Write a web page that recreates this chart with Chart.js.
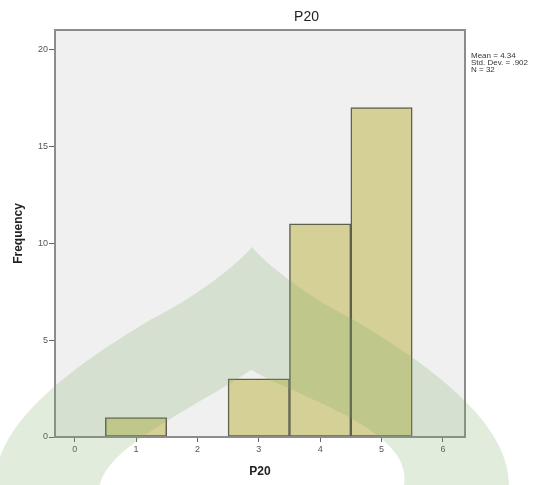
<!DOCTYPE html>
<html>
<head>
<meta charset="utf-8">
<script src="https://cdn.jsdelivr.net/npm/chart.js@4/dist/chart.umd.min.js"></script>
<style>
  html, body { margin: 0; padding: 0; background: #ffffff; }
  #wrap { width: 548px; height: 485px; }
</style>
</head>
<body>
<div id="wrap"><canvas id="c" width="548" height="485"></canvas></div>
<script>
// ---- data ----
const chartTitle = 'P20';
const xAxisTitle = 'P20';
const yAxisTitle = 'Frequency';
const binCenters = [1, 3, 4, 5];
const frequencies = [1, 3, 11, 17];
const statLines = ['Mean = 4.34', 'Std. Dev. = .902', 'N = 32'];
const xTickValues = [0, 1, 2, 3, 4, 5, 6];
const yTickValues = [0, 5, 10, 15, 20];

const FONT = '"Liberation Sans", Arial, sans-serif';

const plotFramePlugin = {
  id: 'plotFrame',
  beforeDatasetsDraw(chart) {
    const {ctx, chartArea: a} = chart;
    ctx.save();
    ctx.fillStyle = '#f0f0f0';
    ctx.fillRect(a.left, a.top, a.right - a.left, a.bottom - a.top);
    ctx.restore();
  },
  afterDatasetsDraw(chart) {
    const {ctx, chartArea: a} = chart;
    ctx.save();
    ctx.strokeStyle = '#8c8c8c';
    ctx.lineWidth = 2;
    ctx.strokeRect(a.left, a.top, a.right - a.left, a.bottom - a.top);
    ctx.restore();
  }
};

const textPlugin = {
  id: 'extraText',
  afterDraw(chart) {
    const {ctx, chartArea: a} = chart;
    ctx.save();
    ctx.fillStyle = '#222';
    ctx.font = '14px ' + FONT;
    ctx.textAlign = 'center';
    ctx.textBaseline = 'middle';
    ctx.fillText(chartTitle, (a.left + chart.width) / 2 + 5, 17);
    ctx.fillStyle = '#333';
    ctx.font = '8px ' + FONT;
    ctx.textAlign = 'left';
    statLines.forEach((s, i) => ctx.fillText(s, a.right + 6, 56 + i * 6.8));
    ctx.restore();
  }
};

const watermarkPlugin = {
  id: 'watermark',
  afterDraw(chart) {
    const ctx = chart.ctx;
    ctx.save();
    ctx.beginPath();
    ctx.moveTo(-5, 485);
    ctx.bezierCurveTo(-5, 420, 80, 362, 150, 320);
    ctx.bezierCurveTo(200, 295, 240, 262, 252, 247);
    ctx.bezierCurveTo(264, 262, 304, 295, 354, 320);
    ctx.bezierCurveTo(424, 362, 509, 420, 509, 485);
    ctx.closePath();
    ctx.moveTo(100, 485);
    ctx.bezierCurveTo(108, 445, 200, 405, 251, 370);
    ctx.bezierCurveTo(300, 398, 414, 430, 404, 485);
    ctx.closePath();
    ctx.fillStyle = 'rgba(120,170,100,0.22)';
    ctx.fill('evenodd');
    ctx.restore();
  }
};

new Chart(document.getElementById('c'), {
  type: 'bar',
  data: {
    datasets: [{
      data: binCenters.map((x, i) => ({x: x, y: frequencies[i]})),
      backgroundColor: 'rgb(213,208,150)',
      borderColor: 'rgb(95,95,80)',
      borderWidth: 1.5,
      barPercentage: 1.0,
      categoryPercentage: 1.0,
      borderSkipped: false
    }]
  },
  options: {
    responsive: false,
    animation: false,
    devicePixelRatio: 1,
    layout: { padding: { left: 0, right: 83, top: 30, bottom: 0 } },
    plugins: {
      legend: { display: false },
      title: { display: false },
      tooltip: { enabled: false }
    },
    scales: {
      x: {
        type: 'linear',
        offset: false,
        min: -0.32,
        max: 6.36,
        afterBuildTicks(scale) { scale.ticks = xTickValues.map(v => ({value: v})); },
        afterFit(scale) { scale.height = 48; },
        ticks: {
          stepSize: 1,
          includeBounds: false,
          color: '#555',
          font: { family: FONT, size: 9 },
          padding: 2,
          maxRotation: 0
        },
        grid: { display: true, offset: false, drawOnChartArea: false, drawTicks: true, tickLength: 5, color: '#666', lineWidth: 1 },
        border: { display: false },
        title: {
          display: true,
          text: xAxisTitle,
          color: '#222',
          font: { family: FONT, size: 12, weight: 'bold' },
          padding: { top: 0, bottom: 6 }
        }
      },
      y: {
        type: 'linear',
        min: 0,
        max: 21,
        afterBuildTicks(scale) { scale.ticks = yTickValues.map(v => ({value: v})); },
        afterFit(scale) { scale.width = 55; },
        ticks: {
          stepSize: 5,
          includeBounds: false,
          color: '#555',
          font: { family: FONT, size: 9 },
          padding: 1
        },
        grid: { display: true, drawOnChartArea: false, drawTicks: true, tickLength: 6, color: '#666', lineWidth: 1 },
        border: { display: false },
        title: {
          display: true,
          text: yAxisTitle,
          color: '#222',
          font: { family: FONT, size: 12, weight: 'bold' },
          padding: { top: 11, bottom: 0 }
        }
      }
    }
  },
  plugins: [plotFramePlugin, textPlugin, watermarkPlugin]
});
</script>
</body>
</html>
